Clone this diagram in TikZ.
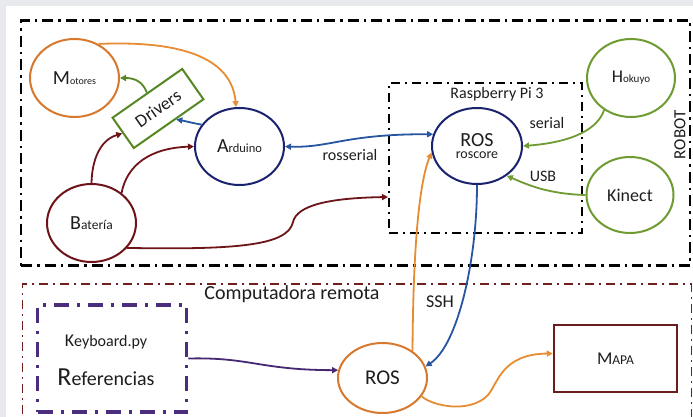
\documentclass[tikz,border=0pt]{standalone}
\usepackage{fontspec}
\setmainfont{Carlito}
\usetikzlibrary{arrows.meta,shapes.geometric,calc}
\definecolor{bgc}{RGB}{232,233,236}
\definecolor{orangeE}{RGB}{215,120,45}
\definecolor{orangeA}{RGB}{232,140,50}
\definecolor{navyE}{RGB}{25,35,110}
\definecolor{blueA}{RGB}{40,85,160}
\definecolor{redD}{RGB}{110,20,25}
\definecolor{greenE}{RGB}{110,155,50}
\definecolor{greenD}{RGB}{85,135,35}
\definecolor{purpleF}{RGB}{75,45,125}
\definecolor{purpleA}{RGB}{70,40,115}
\definecolor{remred}{RGB}{115,30,30}
\definecolor{mapred}{RGB}{105,30,30}
\definecolor{txt}{RGB}{30,30,30}
\newcommand{\fs}[1]{\fontsize{#1}{#1}\selectfont}
\begin{document}
\begin{tikzpicture}[x=1pt,y=-1pt,
  ell/.style={ellipse, draw, line width=2pt, inner sep=0pt, align=center, text=txt},
  arr/.style={line width=1.8pt, -{Triangle[length=6pt,width=6pt]}},
  darr/.style={line width=1.8pt, {Triangle[length=6pt,width=6pt]}-{Triangle[length=6pt,width=6pt]}},
  robotframe/.style={draw=black, line width=2.6pt, dash pattern=on 11pt off 5pt on 2.5pt off 5pt},
  rpiframe/.style={draw=black, line width=2pt, dash pattern=on 9pt off 5pt on 2pt off 5pt},
  remoteframe/.style={draw=remred, line width=1.6pt, dash pattern=on 9pt off 5pt on 2pt off 5pt},
  kbdframe/.style={draw=purpleF, line width=3.5pt, dash pattern=on 15pt off 8pt on 3pt off 8pt},
  lbl/.style={text=txt, inner sep=0pt}
]
\clip (0,0) rectangle (693,417);
\fill[bgc] (0,0) rectangle (693,417);
\fill[white] (6,6) rectangle (693,417);

% frames
\node[robotframe, minimum width=669pt, minimum height=245pt] (robot) at (355.5,143.2) {};
\node[rpiframe, minimum width=193pt, minimum height=150pt] (rpi) at (485.5,158) {};
\node[remoteframe, minimum width=669pt, minimum height=200pt, anchor=north west] (remote) at (21.5,283) {};
\node[kbdframe, minimum width=149pt, minimum height=107pt] (kbd) at (112,358.5) {};

% labels of frames
\node[lbl, rotate=90] (robotl) at (680,135) {\fs{17}ROBOT};
\node[lbl] (rpit) at (497,94) {\fs{16}Raspberry Pi 3};
\node[lbl] (remt) at (292,294) {\fs{20}Computadora remota};
\node[lbl] (kbdt1) at (106,342) {{\fs{18}K}{\fs{16}eyboard.py}};
\node[lbl] (kbdt2) at (106,377) {{\fs{26}R}{\fs{20}eferencias}};

% nodes
\node[ell, draw=orangeE, minimum width=89pt, minimum height=78pt] (mot) at (74.5,78) {{\fs{20}M}{\fs{10}otores}};
\node[draw=greenD, line width=2pt, minimum width=85pt, minimum height=37pt, rotate=35, inner sep=0pt, text=txt] (drv) at (158,108.5) {\fs{18}Drivers};
\node[ell, draw=navyE, minimum width=89pt, minimum height=77pt] (ard) at (239.5,146.5) {{\fs{20}A}{\fs{12.5}rduino}};
\node[ell, draw=redD, minimum width=89pt, minimum height=78pt] (bat) at (91.5,223) {{\fs{20}B}{\fs{13.5}atería}};
\node[ell, draw=navyE, minimum width=90pt, minimum height=76pt] (ros) at (477,146) {{\fs{20}ROS}\\[0pt]{\fs{14}roscore}};
\node[ell, draw=greenE, minimum width=88pt, minimum height=78pt] (hok) at (631,78) {{\fs{18}H}{\fs{11}okuyo}};
\node[ell, draw=greenE, minimum width=87pt, minimum height=76pt] (kin) at (630,195) {\fs{18}Kinect};
\node[ell, draw=orangeE, minimum width=89pt, minimum height=70pt] (rosb) at (382.5,378) {\fs{21}ROS};
\node[draw=mapred, line width=2.5pt, minimum width=123pt, minimum height=67pt, text=txt] (mapa) at (615.5,358.5) {{\fs{18}M}{\fs{13.5}APA}};

% connectors
\draw[arr, orangeA] (mot.55) .. controls (190,40) and (232,62) .. (ard.95);
\draw[arr, greenD] (drv.north) .. controls (143,82) and (135,78) .. (mot.east);
\coordinate (drvp) at ($(drv.south)!0.2!(drv.south east)$);
\draw[arr, blueA] (ard.150) .. controls (192,123) and (185,121) .. (drvp);
\draw[arr, redD] (bat.north) .. controls (92,160) and (100,140) .. (drv.west);
\draw[arr, redD] (bat.45) .. controls (127,165) and (150,148) .. (ard.west);
\draw[arr, redD] (bat.-35) .. controls (240,250) and (288,245) .. (293,222) .. controls (297,205) and (330,198) .. ([yshift=-39pt]rpi.west);
\draw[darr, blueA] (ard.east) .. controls (330,148) and (345,134) .. (ros.165);
\draw[arr, greenE] (hok.-130) .. controls (598,128) and (575,142) .. (ros.east);
\draw[arr, greenE] (kin.west) .. controls (550,194) and (530,186) .. (ros.-45);
\draw[arr, blueA] (ros.south) .. controls (477,260) and (458,345) .. (rosb.15);
\draw[arr, orangeA] (rosb.42) .. controls (413,260) and (418,185) .. (ros.-172);
\draw[arr, purpleA] (kbd.east) .. controls (250,357) and (260,370) .. (rosb.170);
\draw[arr, orangeA] (rosb.-25) .. controls (432,406) and (470,414) .. (488,395) .. controls (498,383) and (502,354) .. ([yshift=5pt]mapa.west);

% connector labels
\node[lbl] (lrs) at (350,155) {\fs{16}rosserial};
\node[lbl] (lser) at (547,123) {\fs{16}serial};
\node[lbl] (lusb) at (543,176) {\fs{16}USB};
\node[lbl] (lssh) at (440,302) {\fs{18}SSH};
\end{tikzpicture}
\end{document}
